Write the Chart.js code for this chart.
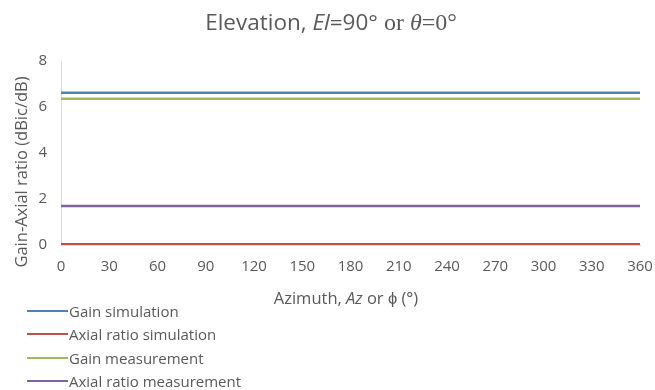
<!DOCTYPE html>
<html>
<head>
<meta charset="utf-8">
<script src="https://cdn.jsdelivr.net/npm/chart.js@4"></script>
<style>
html,body{margin:0;padding:0;background:#fff;}
#wrap{position:relative;width:655px;height:390px;}
canvas{display:block;}
#legend{position:absolute;left:27px;top:299px;font-family:"Open Sans",sans-serif;font-size:15px;color:#595959;}
#legend div{height:23.5px;line-height:20px;display:flex;align-items:center;white-space:nowrap;}
#legend span.sw{display:inline-block;flex:0 0 41px;width:41px;height:2px;margin-right:1px;}
</style>
</head>
<body>
<div id="wrap">
<canvas id="c" width="655" height="390"></canvas>
<div id="legend"></div>
</div>
<script>
const azimuth = [0, 30, 60, 90, 120, 150, 180, 210, 240, 270, 300, 330, 360];
const gainSimulation = [6.62, 6.62, 6.62, 6.62, 6.62, 6.62, 6.62, 6.62, 6.62, 6.62, 6.62, 6.62, 6.62];
const axialRatioSimulation = [0.03, 0.03, 0.03, 0.03, 0.03, 0.03, 0.03, 0.03, 0.03, 0.03, 0.03, 0.03, 0.03];
const gainMeasurement = [6.36, 6.36, 6.36, 6.36, 6.36, 6.36, 6.36, 6.36, 6.36, 6.36, 6.36, 6.36, 6.36];
const axialRatioMeasurement = [1.7, 1.7, 1.7, 1.7, 1.7, 1.7, 1.7, 1.7, 1.7, 1.7, 1.7, 1.7, 1.7];
const seriesNames = ["Gain simulation", "Axial ratio simulation", "Gain measurement", "Axial ratio measurement"];
const yTicks = [0, 2, 4, 6, 8];

const SANS = '"Open Sans", sans-serif';
const SERIF = '"Liberation Serif", "DejaVu Serif", serif';
const TXT = '#595959';

function drawSegments(ctx, segs, cx, y) {
  let total = 0;
  segs.forEach(s => { ctx.font = s.font; total += ctx.measureText(s.text).width; });
  let x = cx - total / 2;
  ctx.textBaseline = 'alphabetic';
  ctx.textAlign = 'left';
  segs.forEach(s => { ctx.font = s.font; ctx.fillText(s.text, x, y); x += ctx.measureText(s.text).width; });
}

const titlesPlugin = {
  id: 'titles',
  afterDraw(chart) {
    const ctx = chart.ctx;
    ctx.save();
    ctx.fillStyle = TXT;
    drawSegments(ctx, [
      {text: 'Elevation, ', font: `22.5px ${SANS}`},
      {text: 'El', font: `italic 22.5px ${SANS}`},
      {text: '=90°', font: `22.5px ${SANS}`},
      {text: ' or ', font: `24px ${SERIF}`},
      {text: 'θ', font: `italic 24px ${SERIF}`},
      {text: '=0°', font: `24px ${SERIF}`}
    ], 331, 30);
    drawSegments(ctx, [
      {text: 'Azimuth, ', font: `16.5px ${SANS}`},
      {text: 'Az', font: `italic 16.5px ${SANS}`},
      {text: ' or ϕ (°)', font: `16.5px ${SANS}`}
    ], 346, 304);
    ctx.translate(27, 172);
    ctx.rotate(-Math.PI / 2);
    drawSegments(ctx, [{text: 'Gain-Axial ratio (dBic/dB)', font: `16.5px ${SANS}`}], 0, 0);
    ctx.restore();
  }
};

const colors = ['#4f81bd', '#c0504d', '#9bbb59', '#8064a2'];
const values = [gainSimulation, axialRatioSimulation, gainMeasurement, axialRatioMeasurement];

const datasets = values.map((arr, i) => ({
  label: seriesNames[i],
  data: azimuth.map((a, j) => ({x: a, y: arr[j]})),
  borderColor: colors[i],
  backgroundColor: colors[i],
  borderWidth: 2.5,
  pointRadius: 0,
  fill: false,
  tension: 0
}));

new Chart(document.getElementById('c'), {
  type: 'line',
  data: {datasets},
  options: {
    responsive: false,
    animation: false,
    layout: {padding: {top: 61, right: 15, left: 0, bottom: 0}},
    plugins: {legend: {display: false}, title: {display: false}, tooltip: {enabled: false}},
    scales: {
      x: {
        type: 'linear', min: 0, max: 360,
        afterBuildTicks: s => { s.ticks = azimuth.map(v => ({value: v})); },
        grid: {display: false, drawTicks: false},
        border: {display: true, color: '#d9d9d9', width: 1},
        ticks: {color: TXT, font: {family: SANS, size: 15}, padding: 13, maxRotation: 0, autoSkip: false},
        afterFit: s => { s.height = 145; s.paddingLeft = 0; s.paddingRight = 0; }
      },
      y: {
        min: 0, max: 8,
        afterBuildTicks: s => { s.ticks = yTicks.map(v => ({value: v})); },
        grid: {display: false, drawTicks: false},
        border: {display: true, color: '#d9d9d9', width: 1},
        ticks: {color: TXT, font: {family: SANS, size: 15}, padding: 14},
        afterFit: s => { s.width = 61; s.paddingTop = 0; s.paddingBottom = 0; }
      }
    }
  },
  plugins: [titlesPlugin]
});

const lg = document.getElementById('legend');
seriesNames.forEach((n, i) => {
  const d = document.createElement('div');
  const sw = document.createElement('span');
  sw.className = 'sw';
  sw.style.background = colors[i];
  d.appendChild(sw);
  d.appendChild(document.createTextNode(n));
  lg.appendChild(d);
});
</script>
</body>
</html>
